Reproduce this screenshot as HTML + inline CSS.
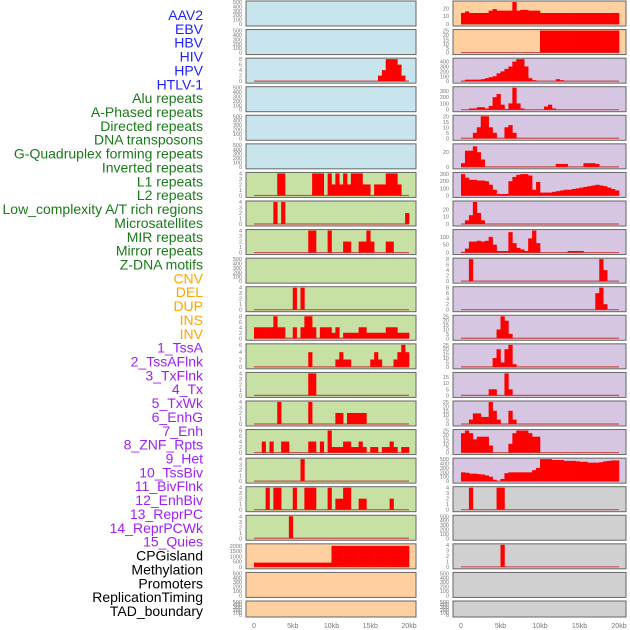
<!DOCTYPE html>
<html><head><meta charset="utf-8">
<style>
html,body{margin:0;padding:0;background:#fff;}
svg{display:block;font-family:"Liberation Sans",sans-serif;}
</style></head>
<body>
<svg id="chart" width="630" height="630" viewBox="0 0 630 630" xmlns="http://www.w3.org/2000/svg">
<g id="labels"></g>
<g id="panels"></g>
<g id="xaxes"></g>
</svg>
<script>
const NS='http://www.w3.org/2000/svg';
const labelNames=["AAV2","EBV","HBV","HIV","HPV","HTLV-1","Alu repeats","A-Phased repeats","Directed repeats","DNA transposons","G-Quadruplex forming repeats","Inverted repeats","L1 repeats","L2 repeats","Low_complexity A/T rich regions","Microsatellites","MIR repeats","Mirror repeats","Z-DNA motifs","CNV","DEL","DUP","INS","INV","1_TssA","2_TssAFlnk","3_TxFlnk","4_Tx","5_TxWk","6_EnhG","7_Enh","8_ZNF_Rpts","9_Het","10_TssBiv","11_BivFlnk","12_EnhBiv","13_ReprPC","14_ReprPCWk","15_Quies","CPGisland","Methylation","Promoters","ReplicationTiming","TAD_boundary"];
const labelColors=["#1f1fff","#1f1fff","#1f1fff","#1f1fff","#1f1fff","#1f1fff","#1a7a1a","#1a7a1a","#1a7a1a","#1a7a1a","#1a7a1a","#1a7a1a","#1a7a1a","#1a7a1a","#1a7a1a","#1a7a1a","#1a7a1a","#1a7a1a","#1a7a1a","#ffa500","#ffa500","#ffa500","#ffa500","#ffa500","#a020f0","#a020f0","#a020f0","#a020f0","#a020f0","#a020f0","#a020f0","#a020f0","#a020f0","#a020f0","#a020f0","#a020f0","#a020f0","#a020f0","#a020f0","#000","#000","#000","#000","#000"];
const xTicks=[0,5,10,15,20];
const xTickLabels=["0","5kb","10kb","15kb","20kb"];
// per-row panel background types
const leftBg=["b","b","b","b","b","b","g","g","g","g","g","g","g","g","g","g","g","g","g","o","o","o"];
const rightBg=["o","o","p","p","p","p","p","p","p","p","p","p","p","p","p","p","p","x","x","x","x","x"];
// y-axis maxima and tick labels
const leftMax=[500,500,8,500,500,500,4,4,4,500,4,8,6,4,4,8,4,4,4,2100,500,500];
const rightMax=[28,25,450,350,20,30,310,30,140,8,8,25,25,18,25,25,500,4,500,4,500,500];
const leftTicks=[[0,100,200,300,400,500],[0,100,200,300,400,500],[0,2,4,6,8],[0,100,200,300,400,500],[0,100,200,300,400,500],[0,100,200,300,400,500],[0,1,2,3,4],[0,1,2,3,4],[0,1,2,3,4],[0,100,200,300,400,500],[0,1,2,3,4],[0,2,4,6,8],[0,2,4,6],[0,1,2,3,4],[0,1,2,3,4],[0,2,4,6,8],[0,1,2,3,4],[0,1,2,3,4],[0,1,2,3,4],[0,500,1000,1500,2000],[0,100,200,300,400,500],[0,100,200,300,400,500]];
const rightTicks=[[0,10,20],[0,5,10,15,20,25],[0,100,200,300,400],[0,100,200,300],[0,5,10,15,20],[0,20],[0,100,200,300],[0,10,20],[0,50,100],[0,2,4,6,8],[0,2,4,6,8],[0,5,10,15,20,25],[0,5,10,15,20,25],[0,5,10,15],[0,5,10,15,20,25],[0,5,10,15,20,25],[0,100,200,300,400,500],[0,1,2,3,4],[0,100,200,300,400,500],[0,1,2,3,4],[0,100,200,300,400,500],[0,100,200,300,400,500]];
// series: 40 bins of 500bp over 0-20kb (sparse objects bin:value)
const leftSeries=[
null,null,
{32:2,33:4,34:8,35:8,36:8,37:6,38:2},
null,null,null,
{6:4,7:4,15:4,16:4,17:4,19:4,20:2,21:4,22:2,23:4,24:2,25:4,26:4,27:4,28:2,29:2,31:2,32:2,33:2,34:4,35:4,36:4,37:2},
{5:4,7:4,39:2},
{14:4,15:4,19:4,23:2,24:2,27:2,28:2,29:4,30:2,34:2,35:2},
null,
{10:4,12:4},
{0:4,1:4,2:4,3:4,4:4,5:8,6:4,7:4,10:4,12:4,13:8,14:8,15:4,17:4,18:4,19:4,20:2,21:4,23:2,24:2,25:2,26:2,27:4,28:4,29:2,30:2,31:2,32:2,33:2,34:4,35:4,36:4,37:2,38:2,39:2},
{14:4,21:2,22:4,23:2,24:2,30:2,31:4,32:2,36:2,37:4,38:6,39:4},
{14:4,15:4},
{6:4,14:4,21:2,22:2,24:2,25:2,26:2,27:2,28:2},
{2:4,4:4,7:4,8:4,14:4,15:4,17:4,19:8,20:2,21:2,22:2,23:4,24:4,25:2,26:2,27:4,28:2,30:2,31:2,33:2,34:2,35:4,36:2,38:2,39:2},
{12:4},
{3:4,5:4,6:4,10:4,13:4,14:4,15:4,19:4,21:2,22:2,23:4,24:4,27:2,28:2,35:2},
{9:4},
{0:400,1:400,2:400,3:400,4:400,5:400,6:400,7:400,8:400,9:400,10:400,11:400,12:400,13:400,14:400,15:400,16:400,17:400,18:400,19:400,20:2000,21:2000,22:2000,23:2000,24:2000,25:2000,26:2000,27:2000,28:2000,29:2000,30:2000,31:2000,32:2000,33:2000,34:2000,35:2000,36:2000,37:2000,38:2000,39:2000},
null,null];
const rightSeries=[
{0:14,1:16,2:14,3:14,4:14,5:14,6:14,7:17,8:19,9:17,10:17,11:17,12:17,13:28,14:17,15:18,16:18,17:17,18:17,19:17,20:14,21:14,22:14,23:14,24:14,25:14,26:14,27:14,28:14,29:14,30:14,31:14,32:14,33:14,34:14,35:14,36:14,37:14,38:14,39:14},
{20:25,21:25,22:25,23:25,24:25,25:25,26:25,27:25,28:25,29:25,30:25,31:25,32:25,33:25,34:25,35:25,36:25,37:25,38:25,39:25},
{0:5,1:30,2:30,3:30,4:30,5:40,6:60,7:80,8:100,9:160,10:200,11:250,12:300,13:400,14:450,15:450,16:300,17:60,18:20,24:40,25:20},
{2:20,3:20,4:40,5:40,6:20,7:60,8:200,9:250,10:80,11:10,12:100,13:350,14:100,15:20,21:50,22:80,23:20},
{3:5,4:10,5:20,6:20,7:10,8:5,11:10,12:12,13:5},
{0:5,1:22,2:22,3:28,4:20,5:10,24:4,25:4,26:4,31:5,32:5,33:5,34:4},
{0:300,1:250,2:220,3:220,4:210,5:210,6:200,7:150,8:80,9:20,10:20,11:20,12:200,13:260,14:290,15:300,16:300,17:280,18:80,19:190,20:40,21:40,22:40,23:50,24:60,25:70,26:80,27:80,28:90,29:100,30:110,31:120,32:130,33:140,34:150,35:140,36:130,37:110,38:90,39:70},
{1:5,2:12,3:30,4:15,5:5},
{0:5,1:25,2:70,3:70,4:75,5:70,6:75,7:100,8:50,9:10,10:10,11:10,12:130,13:60,14:30,15:20,16:10,17:90,18:140,19:60,27:10,28:10,29:10,30:10},
{2:8,35:8,36:4},
{34:6,35:8,36:2},
{9:10,10:25,11:20,12:5},
{8:10,9:20,10:5,11:20,12:25,13:3},
{7:5,8:5,11:18,12:5},
{2:5,3:12,4:12,5:8,6:8,7:25,8:15,9:5,12:15,13:5},
{0:22,1:25,2:22,3:15,4:18,5:18,6:18,7:8,12:10,13:22,14:25,15:25,16:25,17:22,18:18,19:18},
{0:200,1:190,2:170,3:170,4:160,5:150,6:130,7:100,8:30,10:50,11:180,12:200,13:200,14:200,15:200,16:200,17:200,18:250,19:300,20:500,21:500,22:500,23:480,24:480,25:480,26:460,27:460,28:460,29:450,30:440,31:440,32:420,33:420,34:420,35:430,36:450,37:460,38:470,39:470},
{2:4,9:4,10:4},
null,
{10:4},
null,null];

const bgColors={b:"#c8e4ec",g:"#c7e0a4",o:"#ffd09f",p:"#d6c6e2",x:"#d0d0d0"};
const labels=document.getElementById('labels');
labelNames.forEach((t,i)=>{
  const el=document.createElementNS(NS,'text');
  el.setAttribute('x',203);
  el.setAttribute('y',15+i*13.86+5);
  el.setAttribute('text-anchor','end');
  el.setAttribute('font-size','14');
  el.setAttribute('fill',labelColors[i]);
  el.textContent=t;
  
  
  labels.appendChild(el);
});

function rowTop(i){return i<21?1+i*28.57:601;}
function rowH(i){return i<21?25:16;}
const panelsG=document.getElementById('panels');
function drawPanel(side,i,bg,ymax,ticks,series){
  const px=side==='left'?246:453, pw=side==='left'?170:173;
  const x0=side==='left'?254:461, x1=side==='left'?409:619;
  const xs=v=>x0+(v/20)*(x1-x0);
  const top=rowTop(i), h=rowH(i);
  const yb=top+h-2, yt=top+1;
  const ys=v=>yb-(v/ymax)*(yb-yt);
  const g=document.createElementNS(NS,'g');
  
  
  const r=document.createElementNS(NS,'rect');
  r.setAttribute('x',px);r.setAttribute('y',top);r.setAttribute('width',pw);r.setAttribute('height',h);
  r.setAttribute('fill',bgColors[bg]);r.setAttribute('stroke','#666');r.setAttribute('stroke-width','1');
  
  
  g.appendChild(r);
  ticks.forEach(t=>{
    const tx=document.createElementNS(NS,'text');
    tx.setAttribute('x',px-4);tx.setAttribute('y',ys(t)+2);
    tx.setAttribute('text-anchor','end');tx.setAttribute('font-size','5.5');tx.setAttribute('fill','#777');
    tx.textContent=t;
    
    
    g.appendChild(tx);
  });
  if(series){
    const base=document.createElementNS(NS,'line');
    base.setAttribute('x1',xs(0));base.setAttribute('x2',xs(20));
    base.setAttribute('y1',yb);base.setAttribute('y2',yb);
    base.setAttribute('stroke','#c85050');base.setAttribute('stroke-width','1.2');
    
    
    g.appendChild(base);
    Object.keys(series).forEach(k=>{
      const b=+k, v=series[k];
      const bar=document.createElementNS(NS,'rect');
      const bx=xs(b*0.5), bw=xs((b+1)*0.5)-bx;
      bar.setAttribute('x',bx);bar.setAttribute('width',bw+0.3);
      bar.setAttribute('y',ys(v));bar.setAttribute('height',yb-ys(v));
      bar.setAttribute('fill','#ff0000');
      
      
      g.appendChild(bar);
    });
  }
  panelsG.appendChild(g);
}
for(let i=0;i<22;i++){
  drawPanel('left',i,leftBg[i],leftMax[i],leftTicks[i],leftSeries[i]);
  drawPanel('right',i,rightBg[i],rightMax[i],rightTicks[i],rightSeries[i]);
}
const xg=document.getElementById('xaxes');
['left','right'].forEach(side=>{
  const x0=side==='left'?254:461, x1=side==='left'?409:619;
  xTicks.forEach((t,j)=>{
    const tx=document.createElementNS(NS,'text');
    tx.setAttribute('x',x0+(t/20)*(x1-x0));tx.setAttribute('y',628);
    tx.setAttribute('text-anchor','middle');tx.setAttribute('font-size','7');tx.setAttribute('fill','#777');
    tx.textContent=xTickLabels[j];
    
    
    xg.appendChild(tx);
  });
});
</script>
</body></html>
